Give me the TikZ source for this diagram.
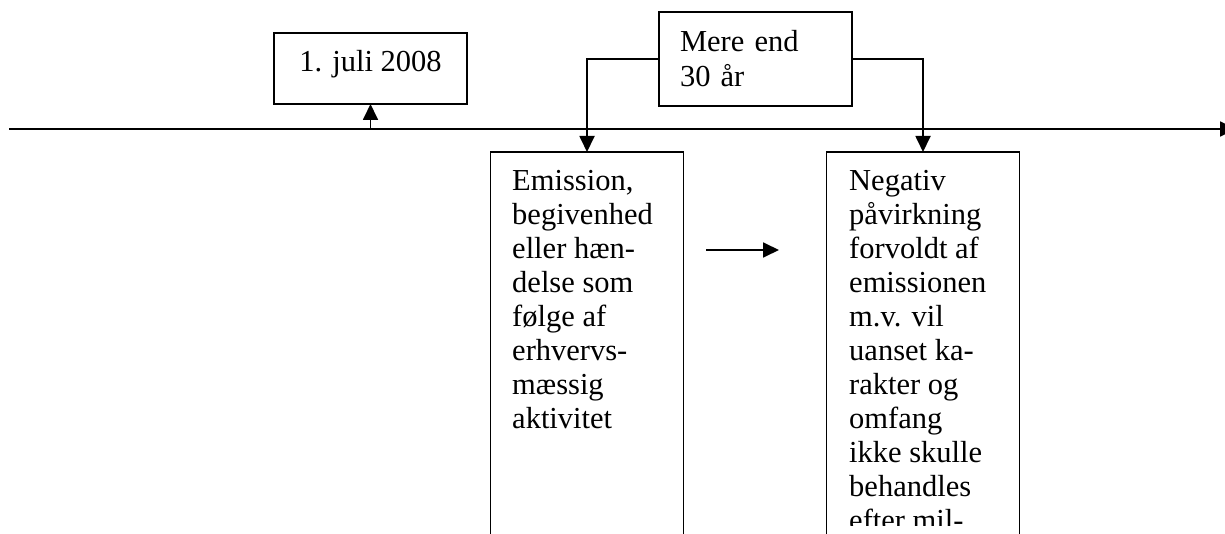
\documentclass[tikz,border=0pt]{standalone}
\usepackage{fontspec}
\setmainfont{Liberation Serif}
\usetikzlibrary{positioning, arrows.meta}
\newcommand{\boxfont}{\fontsize{30.5}{34}\selectfont}
\tikzset{
		box nodes/.style={
			rectangle,
			draw=black,
			line width=1.8pt,
			minimum width=193pt,
			inner sep=0pt,
			outer sep=0pt
		},
		box text/.style={
			align=left,
			inner sep=0pt,
			font=\boxfont
		},
		link arrow/.style={
			line width=1.8pt,
			-{Triangle[length=16pt,width=15pt]}
		}
	}
\begin{document}
\begin{tikzpicture}[x=1pt, y=-1pt]
		\useasboundingbox (0,0) rectangle (1225,534);
		\clip (0,0) rectangle (1225,534);
		% time line
		\coordinate (t0) at (9,129);
		\coordinate (t1) at (1236,129);
		\draw[link arrow] (t0) -- (t1);
		% boxes
		\node[box nodes, minimum height=71pt, font=\boxfont, text height=20pt, text depth=13pt] (juli) at (370.5,68.5) {1. juli 2008};
		\node[box nodes, minimum height=94pt, text width=151pt, inner xsep=21pt, align=left, font=\fontsize{30.5}{35}\selectfont] (mere) at (755.5,59) {Mere end\\30 år};
		\node[box nodes, anchor=north, minimum height=420pt] (emis) at (587,152) {};
		\node[box nodes, anchor=north, minimum height=420pt] (neg) at (923,152) {};
		% texts in the long boxes
		\begin{scope}
			\clip (0,0) rectangle (1225,525);
			\node[box text, anchor=north west] (emis text) at (512,170.5) {Emission,\\begivenhed\\eller hæn-\\delse som\\følge af\\erhvervs-\\mæssig\\aktivitet};
			\node[box text, anchor=north west] (neg text) at (849,170.5) {Negativ\\påvirkning\\forvoldt af\\emissionen\\m.v. vil\\uanset ka-\\rakter og\\omfang\\ikke skulle\\behandles\\efter mil-};
		\end{scope}
		%arrows:
		\draw[link arrow] (juli.south |- t0) -- (juli.south);
		\draw[link arrow] (mere.west) -| (emis.north);
		\draw[link arrow] (mere.east) -| (neg.north);
		\coordinate (m0) at (706,250);
		\coordinate (m1) at (779,250);
		\draw[link arrow] (m0) -- (m1);
	\end{tikzpicture}
\end{document}
